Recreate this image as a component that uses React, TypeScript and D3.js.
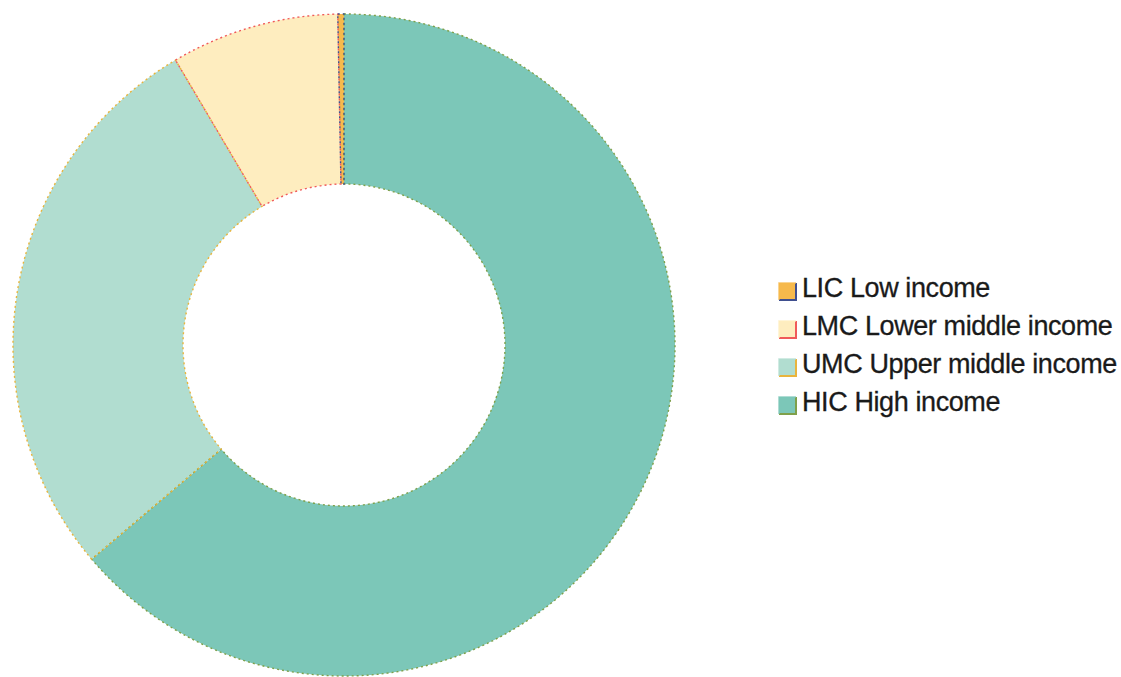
import React from "react";
import * as d3 from "d3";

const categories = ["LIC Low income", "LMC Lower middle income", "UMC Upper middle income", "HIC High income"];
const values = [0.3, 8.2, 27.7, 63.8];
const fills = ["#f6b94c", "#feedbf", "#b1ddd0", "#7cc7b8"];
const strokes = ["#3f4f8f", "#f05a5a", "#e9b43c", "#7fa04a"];

export default function App() {
  const W = 1121, H = 677;
  const cx = 344, cy = 345, R = 331, r = 161;
  const idx = d3.range(categories.length);
  // Drawn clockwise from 12 o'clock: HIC, UMC, LMC, LIC
  const order = [3, 2, 1, 0];
  const pie = d3.pie<number>().sort(null).value((i) => values[i]);
  const arcs = pie(order);
  const arc = d3.arc<d3.PieArcDatum<number>>().innerRadius(r).outerRadius(R);
  const legendY = d3.scaleLinear().domain([0, 3]).range([297, 411]);
  return (
    <svg width={W} height={H} style={{ position: "absolute", left: 0, top: 0 }}>
      <rect width={W} height={H} fill="#ffffff" />
      <g transform={`translate(${cx},${cy})`}>
        {arcs.map((a) => (
          <path key={a.data} d={arc(a) || ""} fill={fills[a.data]} stroke="none" />
        ))}
        {arcs.map((a) => (
          <path
            key={"s" + a.data}
            d={arc(a) || ""}
            fill="none"
            stroke={strokes[a.data]}
            strokeWidth={1.4}
            strokeDasharray="2,3"
          />
        ))}
      </g>
      <g>
        {idx.map((i) => {
          const y = legendY(i);
          const x0 = 779, s = 17, top = y - 14;
          return (
            <g key={i}>
              <rect x={x0} y={top} width={s} height={s} fill={fills[i]} />
              <path
                d={`M${x0 + s},${top} L${x0 + s},${top + s} L${x0},${top + s}`}
                fill="none"
                stroke={strokes[i]}
                strokeWidth={2}
              />
              <path
                d={`M${x0},${top + s} L${x0},${top} L${x0 + s},${top}`}
                fill="none"
                stroke={fills[i]}
                strokeWidth={1.5}
                opacity={0.8}
              />
              <text
                x={802}
                y={y}
                fontFamily="Liberation Sans, Arial, sans-serif"
                fontSize={27}
                fill="#1a1a1a"
                stroke="#1a1a1a"
                strokeWidth={0.3}
                letterSpacing={-0.4}
              >
                {categories[i]}
              </text>
            </g>
          );
        })}
      </g>
    </svg>
  );
}
